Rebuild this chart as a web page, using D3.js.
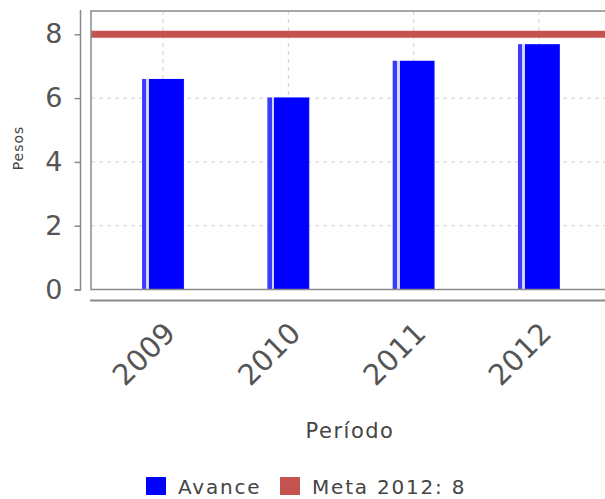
<!DOCTYPE html>
<html>
<head>
<meta charset="utf-8">
<script src="https://cdn.jsdelivr.net/npm/d3@7"></script>
<style>
  body { margin: 0; background: #fff; }
  svg { display: block; font-family: "DejaVu Sans", sans-serif; }
</style>
</head>
<body>
<div id="divChart"></div>
<script>
// datos
var periodos = ["2009", "2010", "2011", "2012"];
var avance = [6.6, 6.02, 7.17, 7.69];
var meta = 8;
var yTicks = [0, 2, 4, 6, 8];
var legendLabels = ["Avance", "Meta 2012: 8"];

function init()
{
    var width = 605, height = 499;
    var plotLeft = 91, plotTop = 11, plotBottom = 289.5, plotRight = 606;

    var svg = d3.select("#divChart").append("svg")
        .attr("width", width)
        .attr("height", height);

    var defs = svg.append("defs");
    var grad = defs.append("linearGradient")
        .attr("id", "barGrad")
        .attr("x1", "0%").attr("x2", "100%").attr("y1", "0%").attr("y2", "0%");
    [[0, "#3a3aff"], [0.1, "#3a3aff"], [0.1, "#d4d4ff"], [0.17, "#d4d4ff"],
     [0.17, "#0000ff"], [0.97, "#0000ff"], [1, "#2a2aff"]].forEach(function(s) {
        grad.append("stop").attr("offset", s[0]).attr("stop-color", s[1]);
    });

    var x = d3.scaleBand()
        .domain(periodos)
        .range([100.4, 601.6])
        .padding(0);

    var y = d3.scaleLinear()
        .domain([0, 8.73])
        .range([plotBottom, plotTop]);

    var barW = x.bandwidth() * 0.335;

    // rejilla horizontal
    svg.append("g").selectAll("line")
        .data(yTicks.filter(function(d){ return d > 0; }))
        .enter().append("line")
        .attr("x1", plotLeft).attr("x2", plotRight)
        .attr("y1", function(d){ return y(d); })
        .attr("y2", function(d){ return y(d); })
        .style("stroke", "#d0d0d0")
        .style("stroke-width", 1)
        .style("stroke-dasharray", "4,4");

    // rejilla vertical
    svg.append("g").selectAll("line")
        .data(periodos)
        .enter().append("line")
        .attr("x1", function(d){ return x(d) + x.bandwidth() / 2; })
        .attr("x2", function(d){ return x(d) + x.bandwidth() / 2; })
        .attr("y1", plotTop).attr("y2", plotBottom)
        .style("stroke", "#d0d0d0")
        .style("stroke-width", 1)
        .style("stroke-dasharray", "4,4");

    // barras
    svg.append("g").selectAll("rect")
        .data(periodos)
        .enter().append("rect")
        .attr("x", function(d){ return x(d) + (x.bandwidth() - barW) / 2; })
        .attr("y", function(d, i){ return y(avance[i]); })
        .attr("width", barW)
        .attr("height", function(d, i){ return plotBottom - y(avance[i]); })
        .style("fill", "url(#barGrad)");

    // meta
    svg.append("line")
        .attr("x1", plotLeft).attr("x2", plotRight)
        .attr("y1", y(meta)).attr("y2", y(meta))
        .style("stroke", "#c4524e")
        .style("stroke-width", 7);

    // borde del area
    svg.append("rect")
        .attr("x", plotLeft).attr("y", plotTop)
        .attr("width", plotRight - plotLeft + 10)
        .attr("height", plotBottom - plotTop)
        .style("fill", "none")
        .style("stroke", "#8a8a8a")
        .style("stroke-width", 1.5);

    // eje Y
    var yAxis = d3.axisLeft(y).tickValues(yTicks).tickSize(6).tickPadding(12)
        .tickFormat(d3.format("d"));
    var gy = svg.append("g")
        .attr("transform", "translate(80.5,0)")
        .call(yAxis);
    gy.select(".domain").attr("d", "M0," + (plotTop - 1) + "V" + (plotBottom + 0.5) + "H-6")
        .style("stroke", "#8a8a8a").style("stroke-width", 1.5);
    gy.selectAll(".tick line").style("stroke", "#8a8a8a").style("stroke-width", 1.5);
    gy.selectAll(".tick text")
        .style("font-size", "27px")
        .style("fill", "#555")
        .style("font-family", "DejaVu Sans");

    // eje X
    svg.append("line")
        .attr("x1", 90).attr("x2", 606)
        .attr("y1", 300.5).attr("y2", 300.5)
        .style("stroke", "#8a8a8a")
        .style("stroke-width", 2);

    svg.append("g").selectAll("text")
        .data(periodos)
        .enter().append("text")
        .attr("transform", function(d){
            var cx = x(d) + x.bandwidth() / 2 + 14;
            return "translate(" + cx + ",335) rotate(-45)";
        })
        .attr("text-anchor", "end")
        .style("font-size", "29px")
        .style("fill", "#555")
        .text(function(d){ return d; });

    // titulos de ejes
    svg.append("text")
        .attr("transform", "translate(23,148) rotate(-90)")
        .attr("text-anchor", "middle")
        .style("font-size", "14px")
        .style("letter-spacing", "1px")
        .style("fill", "#444")
        .text("Pesos");

    svg.append("text")
        .attr("x", 350).attr("y", 438)
        .attr("text-anchor", "middle")
        .style("font-size", "21px")
        .style("letter-spacing", "1.5px")
        .style("fill", "#444")
        .text("Período");

    // leyenda
    var legColors = ["#0000ff", "#c4524e"];
    var legX = [146, 280];
    var leg = svg.append("g").selectAll("g")
        .data(legendLabels)
        .enter().append("g")
        .attr("transform", function(d, i){ return "translate(" + legX[i] + ",477)"; });
    leg.append("rect")
        .attr("width", 20).attr("height", 18)
        .style("fill", function(d, i){ return legColors[i]; });
    leg.append("text")
        .attr("x", function(d, i){ return i === 0 ? 32 : 32; })
        .attr("y", 17)
        .style("font-size", "20px")
        .style("letter-spacing", "1.8px")
        .style("fill", "#444")
        .text(function(d){ return d; });
}

window.onload = init;
</script>
</body>
</html>
